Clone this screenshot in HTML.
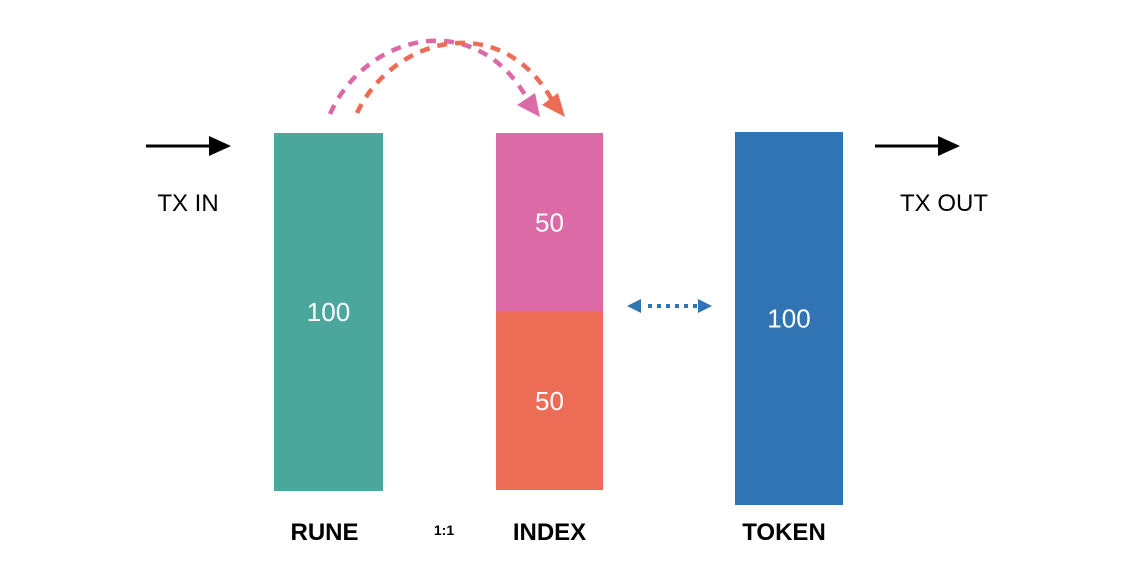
<!DOCTYPE html>
<html><head><meta charset="utf-8"><style>
html,body{margin:0;padding:0;background:#fff}
svg{display:block;font-family:"Liberation Sans",Arial,sans-serif}
</style></head><body>
<svg id="c" width="1134" height="564" viewBox="0 0 1134 564">
<g id="bars"></g>
<g>
<line x1="146" y1="146" x2="212" y2="146" stroke="#000" stroke-width="3"/>
<polygon points="209,136 231,146 209,156" fill="#000"/>
</g>
<text x="188" y="211" font-size="24" text-anchor="middle" fill="#000">TX IN</text>
<g>
<line x1="875" y1="146" x2="941" y2="146" stroke="#000" stroke-width="3"/>
<polygon points="938,136 960,146 938,156" fill="#000"/>
</g>
<text x="944" y="211" font-size="24" text-anchor="middle" fill="#000">TX OUT</text>
<g>
<path d="M330,114 C365,35 475,5 528,100" fill="none" stroke="#dc6aa6" stroke-width="4.5" stroke-dasharray="10,8"/>
<polygon points="517,105 535,93 540,117" fill="#dc6aa6"/>
</g>
<g>
<path d="M357,113 C392,38 500,8 552,100" fill="none" stroke="#ed6c55" stroke-width="4.5" stroke-dasharray="10,8"/>
<polygon points="542,105 558,93 565,117" fill="#ed6c55"/>
</g>
<g>
<polygon points="627,306 641,299 641,313" fill="#3174b4"/>
<line x1="648" y1="306" x2="697" y2="306" stroke="#3174b4" stroke-width="4" stroke-dasharray="4,5"/>
<polygon points="712,306 698,299 698,313" fill="#3174b4"/>
</g>
<text x="444" y="535" font-size="14" font-weight="bold" text-anchor="middle" fill="#000">1:1</text>
</svg>
<script>
const barNames = ["RUNE", "INDEX", "INDEX", "TOKEN"];
const segLabels = ["100", "50", "50", "100"];
const segValues = [100, 50, 50, 100];
const segBases = [0, 50, 0, 0];
const barColors = ["#4ba79c", "#dc6aa6", "#ed6c55", "#3174b4"];
const g = document.getElementById('bars');
const NS = "http://www.w3.org/2000/svg";
const geo = [{x:274,w:109,bottom:491,ppu:3.58},{x:496,w:107,bottom:490,ppu:3.57},{x:496,w:107,bottom:490,ppu:3.57},{x:735,w:108,bottom:505,ppu:3.73}];
function yScale(i, v){ return geo[i].bottom - v*geo[i].ppu; }
segValues.forEach((v,i)=>{
  const y0 = yScale(i, segBases[i]), y1 = yScale(i, segBases[i]+v);
  const r = document.createElementNS(NS,'rect');
  r.setAttribute('x', geo[i].x); r.setAttribute('y', y1);
  r.setAttribute('width', geo[i].w); r.setAttribute('height', y0-y1);
  r.setAttribute('fill', barColors[i]);
  
  
  g.appendChild(r);
  const t = document.createElementNS(NS,'text');
  t.setAttribute('x', geo[i].x + geo[i].w/2);
  t.setAttribute('y', (y0+y1)/2 + 9);
  t.setAttribute('font-size','26'); t.setAttribute('fill','#fff');
  t.setAttribute('text-anchor','middle');
  t.textContent = segLabels[i];
  
  
  g.appendChild(t);
});
[0,1,3].forEach(i=>{
  const t = document.createElementNS(NS,'text');
  t.setAttribute('x', geo[i].x + geo[i].w/2 + (i===0?-4:(i===3?-5:0)));
  t.setAttribute('y', 540);
  t.setAttribute('font-size','24'); t.setAttribute('font-weight','bold');
  t.setAttribute('text-anchor','middle'); t.setAttribute('fill','#000');
  t.textContent = barNames[i];
  
  
  g.appendChild(t);
});
</script>
</body></html>
